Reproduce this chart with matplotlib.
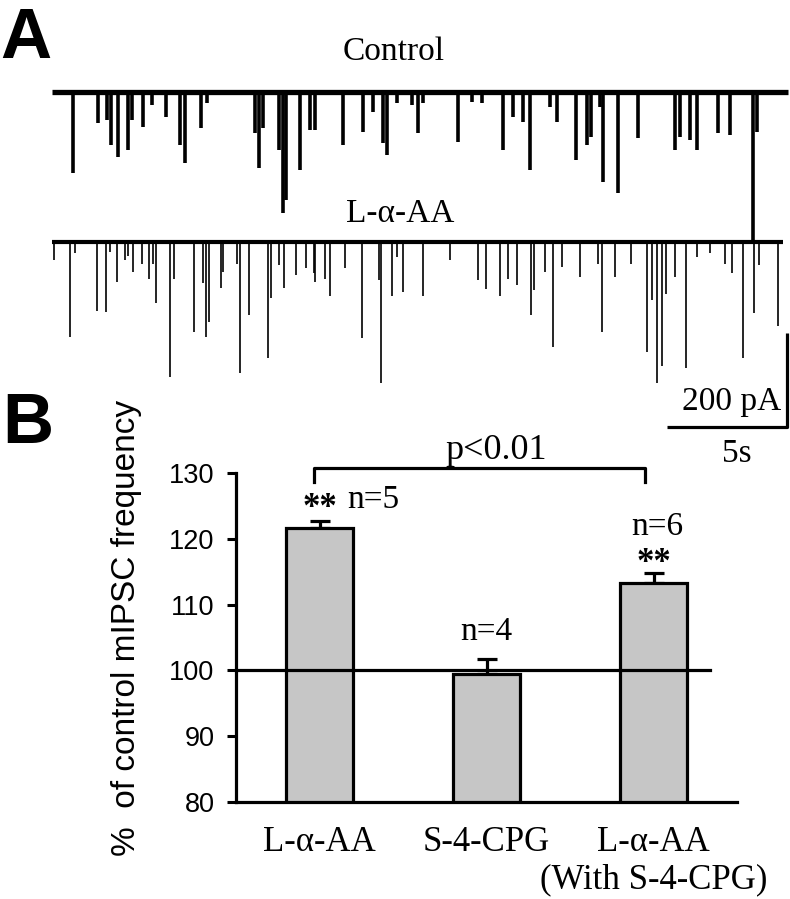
import numpy as np
import matplotlib
matplotlib.use("Agg")
import matplotlib.pyplot as plt

SERIF = "Liberation Serif"
SANS = "Liberation Sans"

# ---- panel A: mIPSC events (time in s, amplitude in pA, inward = downward)
control_t = [0.88, 1.92, 2.29, 2.46, 2.75, 3.17, 3.33, 3.79, 4.17, 4.75, 5.33, 5.54,
             6.21, 6.46, 8.46, 8.63, 8.79, 9.46, 9.63, 9.75, 10.33, 10.75, 10.96,
             12.13, 12.96, 13.38, 13.79, 13.96, 14.38, 15.0, 15.25, 15.46, 16.92,
             17.5, 17.92, 18.79, 19.21, 19.63, 19.92, 20.75, 21.04, 21.83, 22.29,
             22.46, 22.83, 22.96, 23.58, 24.42, 25.96, 26.17, 26.58, 26.88, 27.75,
             28.25, 29.21, 29.38]
control_amp = [172, 66, 60, 113, 138, 123, 60, 74, 28, 53, 113, 151,
               77, 23, 87, 162, 77, 123, 257, 230, 166, 81, 81,
               113, 85, 43, 109, 134, 23, 28, 87, 23, 106,
               21, 23, 123, 53, 64, 166, 32, 64, 145, 113,
               96, 32, 191, 215, 98, 123, 96, 102, 123, 87,
               91, 321, 85]
control_len = 30.67

laa_t = [0.08, 0.75, 0.96, 1.88, 2.25, 2.42, 2.71, 3.04, 3.17, 3.38, 3.75, 4.04,
         4.21, 4.33, 4.92, 5.08, 5.92, 6.29, 6.42, 6.54, 7.04, 7.13, 7.71, 7.83,
         8.21, 9.0, 9.13, 9.46, 9.67, 10.17, 10.58, 10.92, 10.96, 11.38, 11.58,
         12.21, 12.92, 13.63, 13.71, 14.17, 14.38, 14.63, 15.46, 16.58, 17.75,
         18.08, 18.67, 19.0, 19.38, 19.96, 20.08, 20.54, 20.88, 21.25, 22.0,
         22.75, 22.92, 23.46, 24.13, 24.79, 25.0, 25.21, 25.42, 25.58, 25.96,
         26.42, 26.88, 27.42, 28.04, 28.33, 28.79, 29.25, 29.46, 30.25]
laa_amp = [38, 202, 23, 145, 149, 21, 85, 38, 28, 64, 45, 77,
           45, 128, 287, 77, 191, 87, 202, 170, 96, 64, 45, 277,
           155, 247, 119, 49, 98, 70, 55, 66, 85, 77, 113,
           55, 204, 81, 300, 113, 32, 106, 115, 38, 81,
           100, 113, 77, 91, 155, 102, 64, 223, 53, 74,
           45, 191, 74, 45, 234, 123, 300, 262, 109, 74,
           268, 32, 23, 45, 66, 247, 151, 49, 177]
laa_len = 30.46

scale_t = 5      # s
scale_i = 200    # pA

# ---- panel B: % of control mIPSC frequency
groups = ["L-\u03b1-AA", "S-4-CPG", "L-\u03b1-AA\n(With S-4-CPG)"]
means = [121.6, 99.5, 113.3]
sems = [1.1, 2.2, 1.5]
n_cells = [5, 4, 6]
stars = ["**", "", "**"]

W, H = 790, 899


def fx(px):
    return px / W


def fy(py):
    return 1 - py / H


fig = plt.figure(figsize=(W / 100, H / 100), dpi=100)

# ---------------- panel A ----------------
px_per_s = 24.0
px_per_pA = 94 / 200
axA = fig.add_axes([fx(52), fy(440), 738 / W, 370 / H])
axA.set_xlim(0, 738 / px_per_s)
axA.set_ylim(-(440 - 92) / px_per_pA, 22 / px_per_pA)
axA.axis("off")

offset = -320  # vertical offset of second sweep
axA.plot([0, control_len], [0, 0], color="k", lw=3.8, solid_capstyle="butt")
axA.vlines(control_t, 0, -np.array(control_amp), color="k", lw=2.6)
axA.plot([0, laa_len], [offset, offset], color="k", lw=3.0, solid_capstyle="butt")
axA.vlines(laa_t, offset, offset - np.array(laa_amp), color="k", lw=1.2)

# scale bar
sb_x = (787 - 52) / px_per_s
sb_y = -(427 - 92) / px_per_pA
axA.plot([sb_x - scale_t, sb_x, sb_x], [sb_y, sb_y, sb_y + scale_i],
         color="k", lw=2.3, solid_capstyle="butt", clip_on=False)

fig.text(fx(732), fy(402), "200 pA", family=SERIF, fontsize=24, ha="center", va="center")
fig.text(fx(737), fy(454), "5s", family=SERIF, fontsize=24, ha="center", va="center")
fig.text(fx(394), fy(52), "Control", family=SERIF, fontsize=24, ha="center", va="center")
fig.text(fx(400), fy(214), "L-\u03b1-AA", family=SERIF, fontsize=24, ha="center", va="center")

fig.text(fx(0), fy(58), "A", family=SANS, fontweight="bold", fontsize=51, va="baseline")
fig.text(fx(2), fy(443), "B", family=SANS, fontweight="bold", fontsize=51, va="baseline")

# ---------------- panel B ----------------
axB = fig.add_axes([fx(236), fy(802), 501 / W, 329 / H])
x = np.arange(len(groups))
axB.bar(x, means, width=0.4, color="#c6c6c6", edgecolor="k", linewidth=2.3, zorder=2)
axB.errorbar(x, means, yerr=[np.zeros(len(sems)), sems], fmt="none", ecolor="k",
             elinewidth=2.3, capsize=7.2, capthick=2.3, zorder=1)
axB.plot([-0.5, 2.34], [100, 100], color="k", lw=2.3, zorder=5, clip_on=False)

axB.set_xlim(-0.5, 2.5)
axB.set_ylim(80, 130)
axB.set_yticks(range(80, 131, 10))
axB.set_xticks(x)
axB.set_xticklabels(groups, family=SERIF, fontsize=25, linespacing=1.18)
axB.tick_params(axis="x", length=0, pad=17)
axB.tick_params(axis="y", length=6.5, width=2.2, pad=9, labelsize=19.5)
for lab in axB.get_yticklabels():
    lab.set_family(SANS)
for s in ["top", "right"]:
    axB.spines[s].set_visible(False)
for s in ["left", "bottom"]:
    axB.spines[s].set_linewidth(2.3)

# annotations
axB.text(0, 124.6, stars[0], family=SERIF, fontweight="bold", fontsize=25, ha="center", va="center")
axB.text(2, 116.3, stars[2], family=SERIF, fontweight="bold", fontsize=25, ha="center", va="center")
axB.text(0.32, 125.9, f"n={n_cells[0]}", family=SERIF, fontsize=24, ha="center", va="center")
axB.text(1.0, 105.8, f"n={n_cells[1]}", family=SERIF, fontsize=24, ha="center", va="center")
axB.text(2.02, 121.8, f"n={n_cells[2]}", family=SERIF, fontsize=24, ha="center", va="center")

axB.plot([-0.03, -0.03, 1.95, 1.95], [128.6, 130.8, 130.8, 128.6], color="k", lw=2.3,
         clip_on=False)
axB.text(1.06, 133.4, "p<0.01", family=SERIF, fontsize=26, ha="center", va="center")

fig.text(fx(127), fy(628), "%  of control mIPSC frequency", family=SANS, fontsize=24,
         rotation=90, ha="center", va="center")

fig.savefig("out.png", dpi=100)
